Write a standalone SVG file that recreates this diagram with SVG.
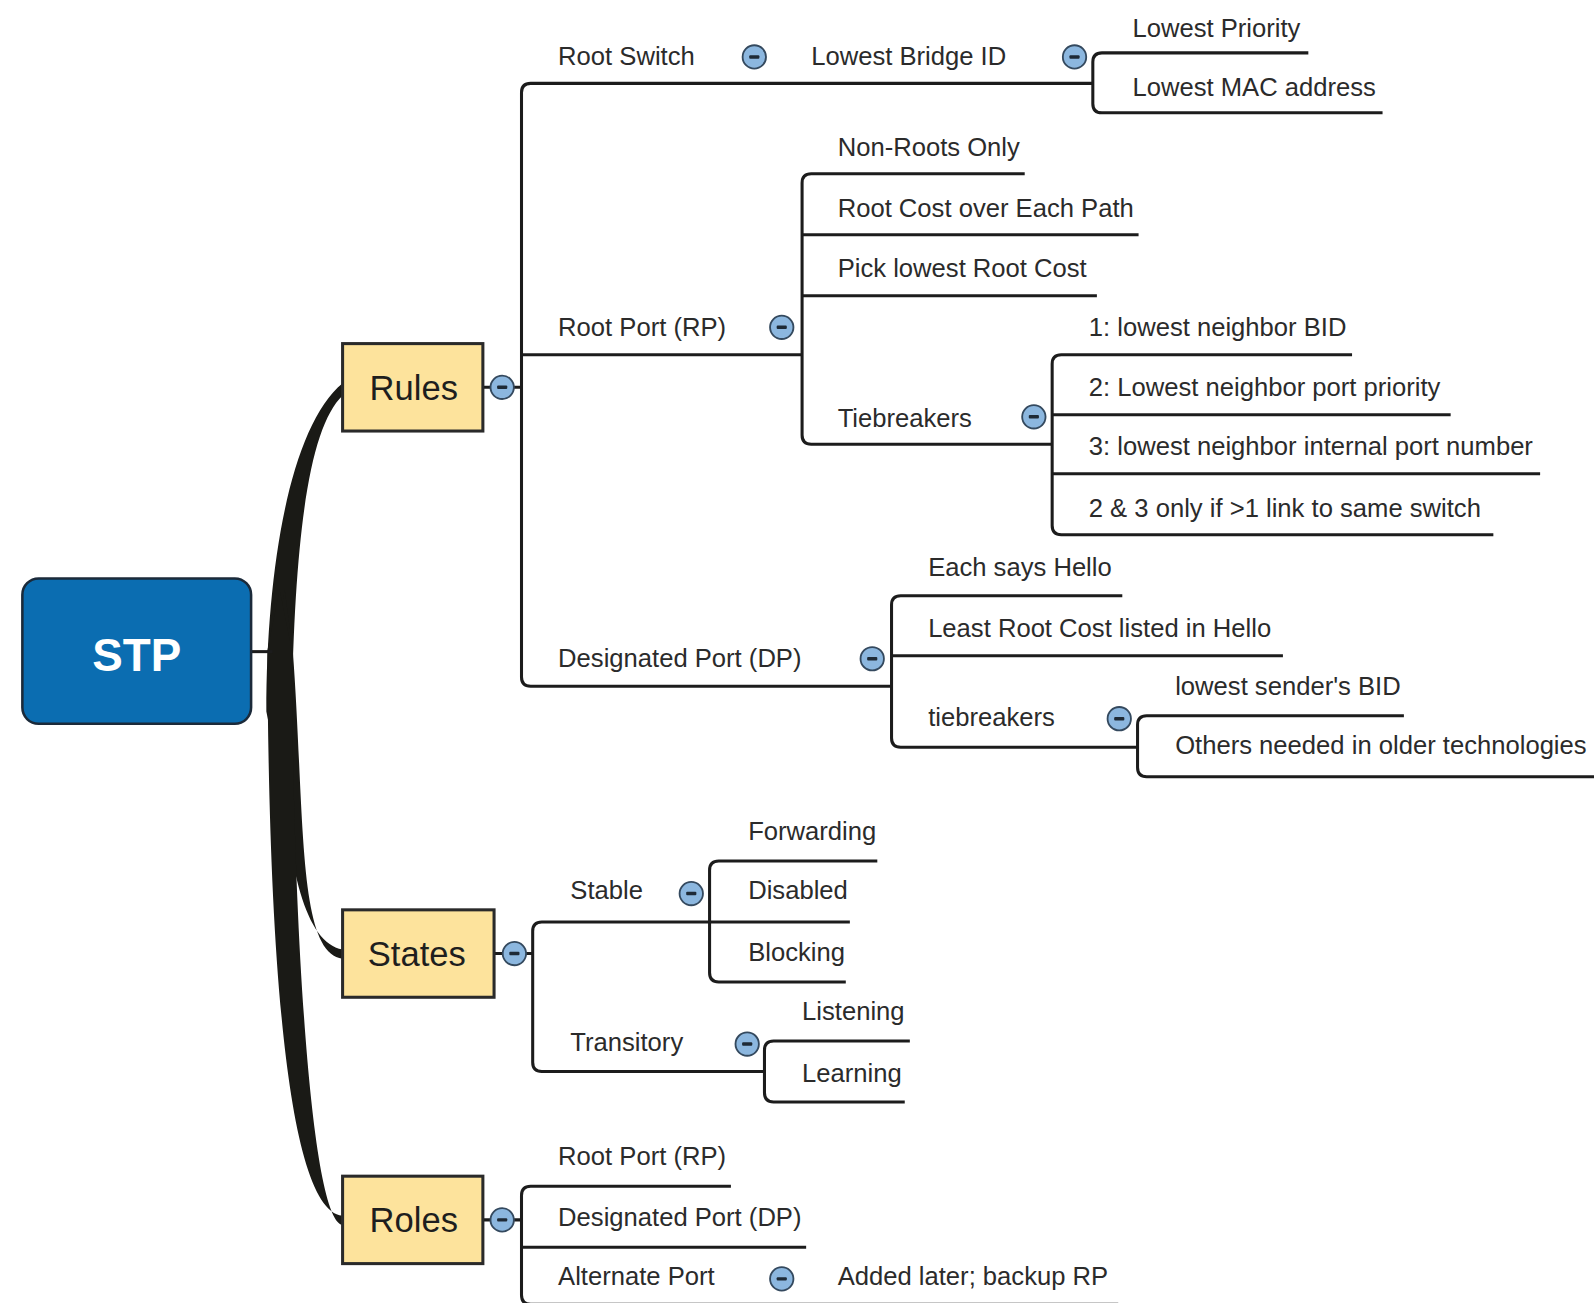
<svg xmlns="http://www.w3.org/2000/svg" width="1594" height="1303" viewBox="0 0 1594 1303">
  <style>
    .t{font-family:"Liberation Sans",Arial,sans-serif;font-size:25.2px;fill:#2b2b2b}
    .bt{font-family:"Liberation Sans",Arial,sans-serif;font-size:34px;fill:#1e1e1e;text-anchor:middle}
    .ln{fill:none;stroke:#1c1c1c;stroke-width:3}
    .box{fill:#fde39c;stroke:#2a2a2a;stroke-width:3}
    .trunk{fill:#1a1a16}
  </style>
  <defs>
    <!-- collapse (minus) toggle -->
    <g id="ico">
      <circle r="11.5" fill="#8cb7df" stroke="#34495e" stroke-width="1.8"/>
      <rect x="-5" y="-1.7" width="10" height="3.4" rx="1" fill="#1e2a36"/>
    </g>
  </defs>
  <rect width="1594" height="1303" fill="#ffffff"/>
  <g transform="scale(1.01658)">
    <g id="connectors">
      <!-- tapered main branches from the root, overlapping near the stub -->
      <path class="trunk" d="M274,760 L262,700 C262,560 285,420 337,377 L337,389 C305,420 290,520 287,700 Z"/>
      <path class="trunk" d="M280,580 L270,640 C276,800 288,925 337,934 L337,943 C292,938 300,800 288,640 Z"/>
      <path class="trunk" d="M275,580 L263,640 C264,900 278,1190 337,1196 L337,1205 C305,1200 288,900 287,640 Z"/>
      <path class="ln" d="M247,641 H268"/>
      <!-- Rules -->
      <path class="ln" d="M475,381 H513"/>
      <path class="ln" d="M1075,82 H522 Q513,82 513,91 V666 Q513,675 522,675 H877"/>
      <path class="ln" d="M513,349 H789"/>
      <path class="ln" d="M1287,52 H1084 Q1075,52 1075,61 V102 Q1075,111 1084,111 H1360"/>
      <path class="ln" d="M1008,171 H798 Q789,171 789,180 V428 Q789,437 798,437 H1035"/>
      <path class="ln" d="M789,231 H1120"/>
      <path class="ln" d="M789,291 H1079"/>
      <path class="ln" d="M1330,349 H1044 Q1035,349 1035,358 V517 Q1035,526 1044,526 H1469"/>
      <path class="ln" d="M1035,408 H1427"/>
      <path class="ln" d="M1035,466 H1515"/>
      <path class="ln" d="M1104,586 H886 Q877,586 877,595 V726 Q877,735 886,735 H1119"/>
      <path class="ln" d="M877,645 H1262"/>
      <path class="ln" d="M1381,704 H1128 Q1119,704 1119,713 V755 Q1119,764 1128,764 H1580"/>
      <!-- States -->
      <path class="ln" d="M486,938 H524"/>
      <path class="ln" d="M836,907 H533 Q524,907 524,916 V1045 Q524,1054 533,1054 H752"/>
      <path class="ln" d="M863,847 H707 Q698,847 698,856 V957 Q698,966 707,966 H832"/>
      <path class="ln" d="M895,1024 H761 Q752,1024 752,1033 V1075 Q752,1084 761,1084 H890"/>
      <!-- Roles -->
      <path class="ln" d="M475,1200 H513"/>
      <path class="ln" d="M719,1167 H522 Q513,1167 513,1176 V1274 Q513,1283 522,1283 H1100"/>
      <path class="ln" d="M513,1227 H793"/>
    </g>

    <g id="stp">
      <rect x="22" y="569" width="225" height="143" rx="16" fill="#0b6db1" stroke="#1b2a3a" stroke-width="2.5"/>
      <text x="134.5" y="660" font-family="Liberation Sans,Arial,sans-serif" font-size="45" font-weight="bold" fill="#ffffff" text-anchor="middle">STP</text>
    </g>

    <g id="rules">
      <rect class="box" x="337" y="338" width="138" height="86"/>
      <text class="bt" x="407" y="393">Rules</text>
      <use href="#ico" x="494" y="381"/>
    </g>
    <g id="root-switch"><text class="t" x="549" y="64">Root Switch</text><use href="#ico" x="742" y="56"/></g>
    <g id="lowest-bridge-id"><text class="t" x="798" y="64">Lowest Bridge ID</text><use href="#ico" x="1057" y="56"/></g>
    <g id="lowest-priority"><text class="t" x="1114" y="36">Lowest Priority</text></g>
    <g id="lowest-mac"><text class="t" x="1114" y="94">Lowest MAC address</text></g>
    <g id="root-port"><text class="t" x="549" y="331">Root Port (RP)</text><use href="#ico" x="769" y="322"/></g>
    <g id="non-roots"><text class="t" x="824" y="153">Non-Roots Only</text></g>
    <g id="root-cost"><text class="t" x="824" y="213">Root Cost over Each Path</text></g>
    <g id="pick-lowest"><text class="t" x="824" y="272">Pick lowest Root Cost</text></g>
    <g id="rp-tiebreakers"><text class="t" x="824" y="420">Tiebreakers</text><use href="#ico" x="1017" y="410"/></g>
    <g id="tb-1"><text class="t" x="1071" y="331">1: lowest neighbor BID</text></g>
    <g id="tb-2"><text class="t" x="1071" y="390">2: Lowest neighbor port priority</text></g>
    <g id="tb-3"><text class="t" x="1071" y="448">3: lowest neighbor internal port number</text></g>
    <g id="tb-note"><text class="t" x="1071" y="509">2 &amp; 3 only if &gt;1 link to same switch</text></g>
    <g id="designated-port"><text class="t" x="549" y="656">Designated Port (DP)</text><use href="#ico" x="858" y="648"/></g>
    <g id="each-hello"><text class="t" x="913" y="567">Each says Hello</text></g>
    <g id="least-root-cost"><text class="t" x="913" y="627">Least Root Cost listed in Hello</text></g>
    <g id="dp-tiebreakers"><text class="t" x="913" y="714">tiebreakers</text><use href="#ico" x="1101" y="707"/></g>
    <g id="sender-bid"><text class="t" x="1156" y="684">lowest sender's BID</text></g>
    <g id="older-tech"><text class="t" x="1156" y="742">Others needed in older technologies</text></g>

    <g id="states">
      <rect class="box" x="337" y="895" width="149" height="86"/>
      <text class="bt" x="410" y="950">States</text>
      <use href="#ico" x="506" y="938"/>
    </g>
    <g id="stable"><text class="t" x="561" y="884">Stable</text><use href="#ico" x="680" y="879"/></g>
    <g id="forwarding"><text class="t" x="736" y="826">Forwarding</text></g>
    <g id="disabled"><text class="t" x="736" y="884">Disabled</text></g>
    <g id="blocking"><text class="t" x="736" y="945">Blocking</text></g>
    <g id="transitory"><text class="t" x="561" y="1034">Transitory</text><use href="#ico" x="735" y="1027"/></g>
    <g id="listening"><text class="t" x="789" y="1003">Listening</text></g>
    <g id="learning"><text class="t" x="789" y="1064">Learning</text></g>

    <g id="roles">
      <rect class="box" x="337" y="1157" width="138" height="86"/>
      <text class="bt" x="407" y="1212">Roles</text>
      <use href="#ico" x="494" y="1200"/>
    </g>
    <g id="role-rp"><text class="t" x="549" y="1146">Root Port (RP)</text></g>
    <g id="role-dp"><text class="t" x="549" y="1206">Designated Port (DP)</text></g>
    <g id="role-alt"><text class="t" x="549" y="1264">Alternate Port</text><use href="#ico" x="769" y="1258"/></g>
    <g id="backup-rp"><text class="t" x="824" y="1264">Added later; backup RP</text></g>
  </g>
</svg>
